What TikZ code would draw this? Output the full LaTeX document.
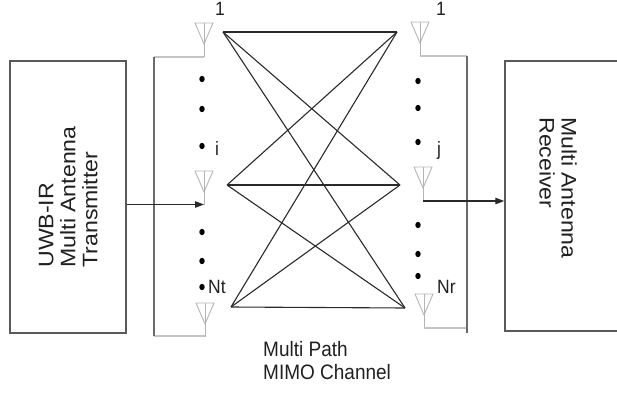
\documentclass[tikz,border=0pt]{standalone}
\usepackage{fontspec}
\setmainfont{Liberation Sans}
\usetikzlibrary{arrows.meta}
\definecolor{boxgray}{HTML}{5A5A5A}
\definecolor{linedark}{HTML}{2A2A2A}
\definecolor{antgray}{HTML}{B4B4B4}
\definecolor{brdark}{HTML}{6A6A6A}
\definecolor{brlight}{HTML}{C4C4C4}
\definecolor{txt}{HTML}{202020}
\begin{document}
\begin{tikzpicture}[x=1pt,y=-1pt,
  box/.style={draw=boxgray, line width=1.5pt, inner sep=0pt},
  boxtext/.style={text=txt, font=\fontsize{21}{22}\selectfont, inner sep=0pt},
  lbl/.style={text=txt, font=\fontsize{17.5}{19}\selectfont, inner sep=0pt},
  chan/.style={draw=linedark, line width=1.1pt},
  antline/.style={draw=antgray, line width=0.9pt},
  brv/.style={draw=brdark, line width=1.4pt},
  brh/.style={draw=brlight, line width=1.1pt},
  sig/.style={draw=linedark, line width=1.1pt, -{Triangle[length=9pt,width=6.5pt]}},
  dotmark/.style={fill=black},
  antenna/.pic={
    \draw[antline] (-9,0) -- (9,0) -- (0,21) -- cycle;
    \draw[antline] (0,0) -- (0,34);
  }
]
\useasboundingbox (0,0) rectangle (617,396);

% boxes
\node[box, minimum width=116pt, minimum height=272pt] (tx) at (68,197) {};
\node[box, minimum width=117pt, minimum height=270pt] (rx) at (563.5,196) {};

\node[boxtext, rotate=90] (txlabel) at (71,197)
  {\scalebox{1.1}[1]{\begin{tabular}{@{}l@{}}UWB-IR\\Multi Antenna\\Transmitter\end{tabular}}};
\node[boxtext, rotate=-90] (rxlabel) at (555,188)
  {\scalebox{1.1}[1]{\begin{tabular}{@{}l@{}}Multi Antenna\\Receiver\end{tabular}}};

% antennas (top of triangle)
\pic at (204,23) {antenna};
\pic at (204,171) {antenna};
\pic at (205,303) {antenna};
\pic at (420,22) {antenna};
\pic at (423,167) {antenna};
\pic at (424,294) {antenna};

% antenna feed points
\coordinate (ta1) at (204,57);
\coordinate (ta2) at (204,204.5);
\coordinate (ta3) at (205,336);
\coordinate (ra1) at (420,56);
\coordinate (ra2) at (423,201);
\coordinate (ra3) at (424,328);

% brackets
\coordinate (lbt) at (154,57);
\coordinate (lbb) at (154,336);
\coordinate (rbt) at (467,56);
\coordinate (rbb) at (467,333);
\coordinate (rbm) at (467,328);
\draw[brh] (ta1) -- (lbt);
\draw[brh] (ta3) -- (lbb);
\draw[brv] (lbt) -- (lbb);
\draw[brh] (ra1) -- (rbt);
\draw[brh] (ra3) -- (rbm);
\draw[brv] (rbt) -- (rbb);

% channel paths
\coordinate (L1) at (223,32);
\coordinate (L2) at (227,185);
\coordinate (L3) at (231,307);
\coordinate (R1) at (397,32);
\coordinate (R2) at (400,185);
\coordinate (R3) at (405,308);
\foreach \a in {L1,L2,L3}{
  \foreach \b in {R1,R2,R3}{
    \draw[chan] (\a) -- (\b);
  }
}

% signal arrows
\draw[sig] (tx.east |- ta2) -- (ta2);
\draw[sig] (ra2) -- (rx.west |- ra2);

% dots
\foreach \y in {79,109,146,232,261,287}{
  \fill[dotmark] (202,\y) ellipse (2.7 and 3.2);
}
\foreach \y in {81,108,142,225,254,276}{
  \fill[dotmark] (418,\y) ellipse (2.7 and 3.2);
}

% labels
\node[lbl, anchor=base west] (one-t) at (215,16) {\scalebox{1}[1.1]{1}};
\node[lbl, anchor=base west] (one-r) at (436,16) {\scalebox{1}[1.1]{1}};
\node[lbl, anchor=base west] (li) at (215,155) {\scalebox{1}[1.1]{i}};
\node[lbl, anchor=base west] (lj) at (437,155) {\scalebox{1}[1.1]{j}};
\node[lbl, anchor=base west] (lnt) at (208,293) {\scalebox{1}[1.1]{Nt}};
\node[lbl, anchor=base west] (lnr) at (437,293) {\scalebox{1}[1.1]{Nr}};

\node[text=txt, font=\fontsize{19}{21}\selectfont, inner sep=0pt, anchor=north west, align=left] (chlabel) at (263,340)
  {\scalebox{1}[1.1]{\begin{tabular}{@{}l@{}}Multi Path\\MIMO Channel\end{tabular}}};
\end{tikzpicture}
\end{document}
